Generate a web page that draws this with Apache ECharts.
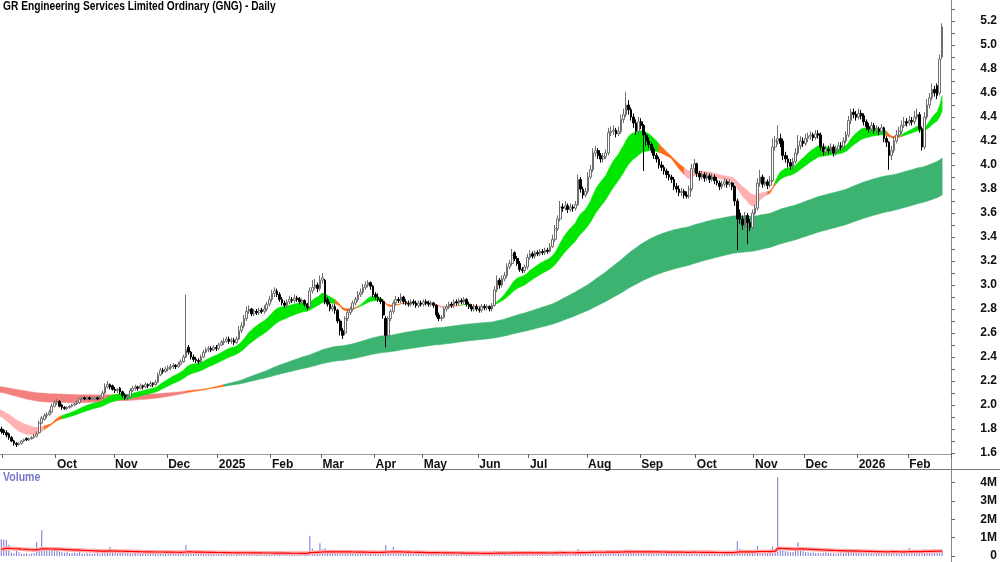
<!DOCTYPE html>
<html><head><meta charset="utf-8">
<script src="https://cdn.jsdelivr.net/npm/echarts@6/dist/echarts.min.js"></script>
<style>html,body{margin:0;padding:0;background:#fff}#c{width:1000px;height:562px}</style>
</head><body><div id="c"></div>
<script>
const chartTitle = 'GR Engineering Services Limited Ordinary (GNG) - Daily';
const volumeTitle = 'Volume';
const startDate = '2024-08-30';
const holidays = ['2024-12-25','2024-12-26','2025-01-01','2025-01-27','2025-04-18','2025-04-21','2025-04-25','2025-06-09','2025-12-25','2025-12-26','2026-01-01','2026-01-26'];
const monthNames = ['Jan','Feb','Mar','Apr','May','Jun','Jul','Aug','Sep','Oct','Nov','Dec'];

const opens = [
1.80,1.79,1.77,1.76,1.73,1.70,1.68,1.67,1.68,1.70,
1.72,1.71,1.72,1.73,1.74,1.77,1.85,1.88,1.91,1.92,
1.94,1.99,2.02,2.03,2.00,1.98,1.97,1.98,1.99,2.00,
2.01,2.02,2.05,2.06,2.05,2.06,2.05,2.05,2.06,2.05,
2.06,2.10,2.15,2.17,2.16,2.13,2.12,2.14,2.11,2.08,
2.06,2.07,2.12,2.14,2.15,2.14,2.16,2.15,2.17,2.16,
2.18,2.17,2.19,2.25,2.29,2.28,2.30,2.31,2.32,2.33,
2.32,2.34,2.36,2.40,2.48,2.44,2.40,2.38,2.37,2.36,
2.40,2.44,2.46,2.47,2.46,2.48,2.47,2.50,2.52,2.53,
2.55,2.53,2.54,2.52,2.55,2.62,2.66,2.72,2.78,2.80,
2.76,2.78,2.77,2.79,2.78,2.80,2.84,2.88,2.93,2.95,
2.92,2.88,2.85,2.83,2.86,2.88,2.87,2.89,2.88,2.86,
2.87,2.84,2.82,2.95,2.98,3.00,2.97,3.04,3.04,2.88,
2.84,2.80,2.82,2.79,2.70,2.62,2.60,2.72,2.77,2.80,
2.85,2.88,2.92,2.94,2.98,3.00,3.02,2.99,2.92,2.90,
2.88,2.86,2.72,2.58,2.72,2.78,2.85,2.88,2.87,2.90,
2.86,2.85,2.84,2.86,2.85,2.83,2.85,2.84,2.86,2.85,
2.84,2.85,2.83,2.75,2.72,2.73,2.80,2.82,2.84,2.83,
2.86,2.85,2.87,2.86,2.88,2.84,2.82,2.80,2.82,2.80,
2.79,2.82,2.81,2.82,2.80,2.83,2.96,3.04,3.00,3.05,
3.08,3.15,3.18,3.27,3.22,3.18,3.13,3.12,3.15,3.23,
3.26,3.24,3.27,3.26,3.28,3.27,3.29,3.28,3.32,3.38,
3.47,3.55,3.65,3.64,3.66,3.63,3.65,3.64,3.67,3.88,
3.80,3.75,3.78,3.90,3.96,4.10,4.12,4.08,4.05,4.07,
4.10,4.27,4.28,4.29,4.26,4.28,4.38,4.42,4.50,4.46,
4.40,4.35,4.28,4.36,4.33,4.25,4.20,4.17,4.13,4.08,
4.05,4.00,3.98,3.95,3.92,3.90,3.88,3.82,3.80,3.77,
3.78,3.75,3.74,3.80,3.97,4.01,3.93,3.90,3.92,3.89,
3.91,3.88,3.90,3.87,3.85,3.82,3.84,3.86,3.84,3.85,
3.82,3.70,3.60,3.55,3.50,3.58,3.52,3.48,3.60,3.64,
3.85,3.90,3.84,3.86,3.83,3.87,4.15,4.20,4.22,4.20,
4.08,4.05,4.02,3.99,4.03,4.10,4.16,4.20,4.18,4.22,
4.24,4.25,4.23,4.26,4.25,4.15,4.11,4.13,4.12,4.15,
4.10,4.13,4.16,4.15,4.20,4.25,4.37,4.44,4.42,4.40,
4.43,4.41,4.36,4.32,4.30,4.33,4.29,4.30,4.28,4.31,
4.22,4.19,4.08,4.12,4.20,4.25,4.28,4.33,4.36,4.35,
4.37,4.36,4.40,4.42,4.30,4.15,4.40,4.50,4.56,4.63,
4.66,4.60,4.90];

const highs = [
1.82,1.80,1.79,1.77,1.74,1.71,1.69,1.69,1.71,1.72,
1.73,1.73,1.74,1.76,1.78,1.87,1.91,1.93,1.94,1.96,
2.01,2.04,2.05,2.04,2.01,1.99,1.99,2.00,2.01,2.02,
2.04,2.06,2.07,2.07,2.07,2.07,2.07,2.07,2.07,2.08,
2.12,2.18,2.20,2.18,2.17,2.15,2.14,2.15,2.12,2.10,
2.09,2.14,2.16,2.17,2.16,2.18,2.17,2.19,2.18,2.20,
2.19,2.21,2.27,2.31,2.31,2.32,2.33,2.34,2.35,2.34,
2.36,2.38,2.42,2.92,2.50,2.45,2.42,2.40,2.39,2.42,
2.46,2.48,2.49,2.49,2.50,2.50,2.52,2.54,2.56,2.57,
2.57,2.56,2.56,2.57,2.66,2.69,2.75,2.82,2.83,2.81,
2.80,2.80,2.81,2.81,2.83,2.86,2.91,2.96,2.98,2.97,
2.94,2.90,2.87,2.88,2.91,2.90,2.92,2.91,2.90,2.89,
2.88,2.85,2.98,3.04,3.05,3.02,3.08,3.10,3.05,2.90,
2.86,2.84,2.84,2.80,2.72,2.64,2.74,2.79,2.82,2.87,
2.90,2.95,2.97,3.01,3.03,3.04,3.03,3.00,2.94,2.93,
2.90,2.88,2.74,2.74,2.80,2.87,2.91,2.90,2.93,2.91,
2.88,2.87,2.88,2.88,2.87,2.87,2.87,2.88,2.88,2.87,
2.87,2.86,2.84,2.77,2.75,2.82,2.84,2.86,2.86,2.88,
2.88,2.89,2.89,2.90,2.89,2.86,2.84,2.84,2.84,2.82,
2.84,2.84,2.84,2.83,2.85,2.99,3.08,3.06,3.08,3.11,
3.18,3.21,3.30,3.28,3.24,3.20,3.15,3.17,3.26,3.29,
3.28,3.29,3.29,3.30,3.30,3.31,3.31,3.35,3.42,3.50,
3.58,3.70,3.68,3.70,3.68,3.68,3.67,3.70,3.92,3.90,
3.82,3.81,3.94,4.00,4.14,4.16,4.14,4.10,4.10,4.13,
4.31,4.32,4.33,4.31,4.32,4.42,4.47,4.61,4.54,4.48,
4.43,4.38,4.40,4.39,4.34,4.27,4.23,4.19,4.15,4.10,
4.07,4.03,4.00,3.97,3.95,3.92,3.90,3.85,3.83,3.81,
3.80,3.78,3.83,4.01,4.05,4.02,3.95,3.95,3.94,3.94,
3.93,3.93,3.92,3.90,3.87,3.87,3.89,3.88,3.88,3.86,
3.83,3.72,3.63,3.58,3.61,3.60,3.55,3.63,3.67,3.89,
3.96,3.92,3.90,3.88,3.91,4.22,4.24,4.33,4.26,4.22,
4.11,4.08,4.05,4.06,4.14,4.25,4.24,4.23,4.26,4.27,
4.28,4.27,4.29,4.29,4.27,4.18,4.16,4.16,4.18,4.17,
4.16,4.19,4.19,4.23,4.28,4.41,4.47,4.47,4.45,4.47,
4.46,4.43,4.38,4.35,4.36,4.35,4.33,4.32,4.34,4.32,
4.24,4.20,4.16,4.24,4.29,4.32,4.37,4.40,4.39,4.41,
4.40,4.45,4.47,4.44,4.32,4.44,4.55,4.60,4.68,4.66,
4.68,4.92,5.18];

const lows = [
1.76,1.75,1.73,1.71,1.69,1.66,1.65,1.66,1.67,1.69,
1.70,1.70,1.71,1.72,1.73,1.76,1.84,1.87,1.89,1.91,
1.93,1.98,2.00,1.98,1.96,1.96,1.96,1.97,1.98,1.99,
2.00,2.01,2.04,2.04,2.04,2.04,2.04,2.04,2.04,2.04,
2.05,2.09,2.14,2.13,2.12,2.10,2.10,2.09,2.06,2.04,
2.04,2.06,2.11,2.12,2.12,2.13,2.13,2.14,2.14,2.15,
2.15,2.16,2.18,2.24,2.26,2.27,2.28,2.29,2.30,2.30,
2.31,2.33,2.35,2.39,2.42,2.38,2.36,2.35,2.34,2.35,
2.39,2.43,2.44,2.44,2.45,2.45,2.46,2.49,2.50,2.52,
2.51,2.51,2.50,2.51,2.54,2.60,2.64,2.70,2.76,2.74,
2.74,2.75,2.75,2.76,2.76,2.78,2.82,2.86,2.90,2.90,
2.86,2.83,2.81,2.81,2.84,2.85,2.85,2.86,2.84,2.84,
2.82,2.79,2.81,2.93,2.96,2.94,2.95,3.01,2.84,2.82,
2.78,2.78,2.76,2.68,2.58,2.55,2.58,2.70,2.75,2.78,
2.83,2.86,2.90,2.92,2.96,2.98,2.96,2.90,2.88,2.86,
2.84,2.72,2.48,2.56,2.70,2.76,2.83,2.85,2.85,2.84,
2.83,2.82,2.82,2.83,2.81,2.81,2.82,2.82,2.83,2.82,
2.82,2.81,2.73,2.70,2.70,2.72,2.78,2.80,2.81,2.81,
2.83,2.83,2.84,2.84,2.82,2.80,2.78,2.78,2.78,2.77,
2.77,2.79,2.79,2.78,2.78,2.82,2.94,2.97,2.98,3.03,
3.06,3.13,3.16,3.20,3.16,3.11,3.10,3.10,3.13,3.21,
3.22,3.22,3.24,3.24,3.25,3.25,3.26,3.27,3.31,3.36,
3.45,3.53,3.61,3.62,3.60,3.61,3.61,3.62,3.66,3.77,
3.72,3.73,3.76,3.88,3.94,4.07,4.05,4.02,4.02,4.05,
4.08,4.24,4.25,4.23,4.24,4.26,4.35,4.40,4.42,4.37,
4.31,4.25,4.26,4.30,3.95,4.16,4.14,4.10,4.05,4.02,
3.97,3.95,3.92,3.89,3.87,3.85,3.79,3.77,3.74,3.74,
3.72,3.72,3.72,3.78,3.94,3.90,3.87,3.88,3.86,3.87,
3.85,3.86,3.84,3.83,3.79,3.80,3.82,3.81,3.82,3.79,
3.66,3.29,3.51,3.46,3.48,3.34,3.45,3.46,3.58,3.62,
3.82,3.81,3.82,3.80,3.81,3.86,4.12,4.17,4.15,4.04,
4.02,3.98,3.96,3.96,4.01,4.08,4.13,4.15,4.16,4.19,
4.21,4.20,4.21,4.22,4.12,4.08,4.08,4.09,4.10,4.07,
4.08,4.11,4.12,4.13,4.18,4.23,4.34,4.39,4.37,4.38,
4.38,4.33,4.29,4.27,4.28,4.26,4.26,4.25,4.26,4.19,
4.15,3.96,4.04,4.10,4.18,4.23,4.26,4.31,4.32,4.33,
4.33,4.34,4.38,4.27,4.12,4.13,4.38,4.47,4.54,4.57,
4.55,4.58,4.88];

const closes = [
1.78,1.77,1.75,1.73,1.70,1.68,1.67,1.68,1.70,1.71,
1.71,1.72,1.73,1.74,1.76,1.85,1.89,1.91,1.92,1.94,
1.99,2.02,2.03,1.99,1.98,1.97,1.98,1.99,2.00,2.01,
2.02,2.05,2.06,2.05,2.06,2.05,2.06,2.06,2.05,2.06,
2.10,2.15,2.17,2.15,2.13,2.12,2.13,2.11,2.08,2.06,
2.07,2.12,2.14,2.15,2.14,2.16,2.15,2.17,2.16,2.18,
2.17,2.19,2.25,2.29,2.28,2.30,2.31,2.32,2.33,2.32,
2.34,2.36,2.40,2.46,2.44,2.40,2.38,2.37,2.36,2.40,
2.44,2.46,2.47,2.46,2.48,2.47,2.50,2.52,2.53,2.55,
2.53,2.54,2.52,2.55,2.62,2.66,2.72,2.78,2.80,2.76,
2.78,2.77,2.79,2.78,2.80,2.84,2.88,2.93,2.95,2.92,
2.88,2.85,2.83,2.86,2.88,2.87,2.89,2.88,2.86,2.87,
2.84,2.81,2.95,2.98,3.00,2.97,3.04,3.06,2.86,2.84,
2.80,2.82,2.79,2.70,2.62,2.58,2.72,2.77,2.80,2.85,
2.88,2.92,2.94,2.98,3.00,3.02,2.99,2.92,2.90,2.88,
2.86,2.75,2.58,2.72,2.78,2.85,2.88,2.87,2.90,2.86,
2.85,2.84,2.86,2.85,2.83,2.85,2.84,2.86,2.85,2.84,
2.85,2.83,2.75,2.72,2.73,2.80,2.82,2.84,2.83,2.86,
2.85,2.87,2.86,2.88,2.84,2.82,2.80,2.82,2.80,2.79,
2.82,2.81,2.82,2.80,2.83,2.96,3.04,3.00,3.05,3.08,
3.15,3.18,3.25,3.22,3.18,3.13,3.12,3.15,3.23,3.26,
3.24,3.27,3.26,3.28,3.27,3.29,3.28,3.32,3.38,3.47,
3.55,3.65,3.64,3.66,3.63,3.65,3.64,3.67,3.88,3.80,
3.75,3.78,3.90,3.96,4.10,4.12,4.08,4.05,4.07,4.10,
4.27,4.28,4.29,4.26,4.28,4.38,4.42,4.50,4.46,4.40,
4.35,4.28,4.36,4.33,4.25,4.20,4.17,4.13,4.08,4.05,
4.00,3.98,3.95,3.92,3.90,3.88,3.82,3.80,3.77,3.78,
3.75,3.74,3.80,3.97,4.01,3.93,3.90,3.92,3.89,3.91,
3.88,3.90,3.87,3.85,3.82,3.84,3.86,3.84,3.85,3.82,
3.70,3.55,3.55,3.50,3.58,3.52,3.48,3.60,3.64,3.85,
3.90,3.84,3.86,3.83,3.87,4.15,4.20,4.22,4.18,4.08,
4.05,4.02,3.99,4.03,4.10,4.16,4.20,4.18,4.22,4.24,
4.25,4.23,4.26,4.25,4.15,4.11,4.13,4.12,4.15,4.10,
4.13,4.16,4.15,4.20,4.25,4.37,4.44,4.42,4.40,4.43,
4.41,4.36,4.32,4.30,4.33,4.29,4.30,4.28,4.31,4.22,
4.19,4.08,4.12,4.20,4.25,4.28,4.33,4.36,4.35,4.37,
4.36,4.40,4.42,4.30,4.15,4.40,4.50,4.56,4.63,4.60,
4.58,4.88,5.15];

// volume in thousands of shares
const volumes = [
920,900,880,620,180,150,300,200,110,130,
150,90,140,160,750,420,1400,380,300,260,
350,280,310,240,200,180,220,150,170,190,
160,230,140,120,150,130,110,140,160,120,
280,260,210,500,180,190,150,230,170,160,
200,180,140,170,150,130,160,120,140,180,
150,170,260,220,180,150,170,140,160,130,
150,180,240,600,280,200,170,150,140,130,
160,140,150,120,130,110,140,150,120,130,
110,100,120,140,180,200,170,190,160,130,
120,110,130,100,120,150,170,160,140,130,
120,110,100,130,120,110,140,120,100,110,
130,150,1100,400,260,200,700,350,420,300,
240,200,180,220,260,230,200,180,160,150,
170,160,180,150,140,130,120,150,140,160,
180,300,600,300,240,500,160,150,170,140,
130,120,110,140,120,130,110,120,100,110,
130,120,160,150,130,120,110,100,130,120,
110,120,100,110,130,120,110,140,120,100,
110,130,120,110,140,300,260,200,180,220,
240,200,260,220,180,160,150,170,200,180,
150,140,160,130,140,150,130,180,220,260,
240,300,200,180,160,170,150,140,380,260,
220,200,280,260,330,300,240,220,200,260,
320,280,240,220,200,300,280,350,260,240,
220,200,230,210,300,240,200,180,170,200,
180,160,190,170,150,160,180,170,200,160,
150,170,180,280,240,200,170,160,150,180,
160,150,170,140,160,150,170,180,160,200,
300,800,400,300,260,280,240,200,260,550,
300,260,220,240,200,520,400,4300,350,300,
260,240,200,220,280,750,300,260,220,200,
180,200,170,160,150,180,200,170,160,150,
140,160,180,150,200,260,240,200,180,170,
160,150,170,180,160,150,140,160,170,150,
200,300,260,220,240,200,180,220,260,450,
300,250,240,220,300,350,280,260,300,380,
320,360,300];

const priceLabelValues = [1.6,1.8,2.0,2.2,2.4,2.6,2.8,3.0,3.2,3.4,3.6,3.8,4.0,4.2,4.4,4.6,4.8,5.0,5.2];
const priceTickValues = [1.6,1.7,1.8,1.9,2.0,2.1,2.2,2.3,2.4,2.5,2.6,2.7,2.8,2.9,3.0,3.1,3.2,3.3,3.4,3.5,3.6,3.7,3.8,3.9,4.0,4.1,4.2,4.3,4.4,4.5,4.6,4.7,4.8,4.9,5.0,5.1,5.2,5.3];
const volumeTickValues = [0,1000000,2000000,3000000,4000000];

const shortPeriods = [15,18,21,24,27,30];
const longPeriods = [135,155,175,195,215,235];
const shortSeeds = [1.92,1.93,1.94,1.95,1.96,1.97];
const longSeeds = [2.11,2.12,2.13,2.14,2.15,2.155];
const volumeAvgPeriod = 50;
const volumeAvgSeed = 350;

// ---- build categories (trading days) ----
const hol = new Set(holidays);
const dates = [];
{
  const p = startDate.split('-').map(Number);
  const d = new Date(Date.UTC(p[0], p[1]-1, p[2]));
  while (dates.length < closes.length) {
    const wd = d.getUTCDay();
    const s = d.toISOString().slice(0,10);
    if (wd !== 0 && wd !== 6 && !hol.has(s)) dates.push(s);
    d.setUTCDate(d.getUTCDate()+1);
  }
}
const categories = dates.concat(['+1','+2','+3']);
const monthStart = new Set();
for (let i = 1; i < dates.length; i++) if (dates[i].slice(5,7) !== dates[i-1].slice(5,7)) monthStart.add(i);
const isTick = (idx) => monthStart.has(idx);
const isLabel = (idx) => monthStart.has(idx) && idx > 5;
const monthLabel = (v) => { if (v.length < 10) return ''; const m = +v.slice(5,7); return m === 1 ? v.slice(0,4) : monthNames[m-1]; };

// ---- moving average groups ----
function emaGroup(periods, seeds) {
  return periods.map((p,k) => { const a = 2/(p+1); let e = seeds[k]; return closes.map(c => (e = e + a*(c-e))); });
}
function bandSeries(group, colors) {
  const n = closes.length, lo = [], hi = [], st = [];
  for (let i = 0; i < n; i++) {
    const v = group.map(g => g[i]);
    lo.push(Math.min(...v)); hi.push(Math.max(...v));
    let up = true, dn = true;
    for (let k = 0; k < v.length-1; k++) { if (!(v[k] > v[k+1])) up = false; if (!(v[k] < v[k+1])) dn = false; }
    st.push(up ? 0 : (dn ? 1 : 2));
  }
  const runs = [];
  let s = 0;
  for (let i = 1; i <= n; i++) if (i === n || st[i] !== st[s]) { runs.push([s, i-1, st[s]]); s = i; }
  return {
    type: 'custom', xAxisIndex: 0, yAxisIndex: 0, silent: true, z: 1, data: runs,
    encode: { x: 0 },
    renderItem(params, api) {
      const r = runs[params.dataIndex];
      const w = api.size([1,0])[0];
      const a = Math.max(r[0]-1, 0), b = r[1];
      const top = [], bot = [];
      for (let k = a; k <= b; k++) {
        top.push(api.coord([k, hi[k]]));
        bot.push(api.coord([k, lo[k]]));
      }
      if (r[0] === 0) { top.unshift([top[0][0]-w/2, top[0][1]]); bot.unshift([bot[0][0]-w/2, bot[0][1]]); }
      const pts = top.concat(bot.reverse());
      const c = colors[r[2]];
      return { type: 'polygon', shape: { points: pts }, style: { fill: c, stroke: c, lineWidth: 0.5 } };
    }
  };
}
const shortGroup = emaGroup(shortPeriods, shortSeeds);
const longGroup = emaGroup(longPeriods, longSeeds);

const volAvg = [];
{ let e = volumeAvgSeed; const a = 2/(volumeAvgPeriod+1); volumes.forEach(v => { e += a*(v-e); volAvg.push(e*1000); }); }

const font = '"Liberation Sans", Arial, sans-serif';

const chart = echarts.init(document.getElementById('c'), null, { renderer: 'canvas' });
chart.setOption({
  animation: false,
  backgroundColor: '#ffffff',
  grid: [
    { left: 0, right: 49, top: 0, height: 454 },
    { left: 0, right: 49, top: 469, height: 89 }
  ],
  xAxis: [
    { type: 'category', gridIndex: 0, data: categories, boundaryGap: true,
      axisLine: { show: true, lineStyle: { color: '#999', width: 1 } },
      axisTick: { show: true, interval: (i) => isTick(i), length: 4, lineStyle: { color: '#666' } },
      axisLabel: { show: true, interval: (i) => isLabel(i), formatter: (v) => monthLabel(v), align: 'left', margin: 5,
                   fontFamily: font, fontWeight: 'bold', fontSize: 12, color: '#111' },
      splitLine: { show: false } },
    { type: 'category', gridIndex: 1, data: categories, boundaryGap: true,
      axisLine: { show: false }, axisTick: { show: false }, axisLabel: { show: false }, splitLine: { show: false } }
  ],
  yAxis: [
    { type: 'value', gridIndex: 0, position: 'right', min: 1.5917, max: 5.375, scale: true,
      axisLine: { show: true, lineStyle: { color: '#888' } },
      axisTick: { show: true, customValues: priceTickValues, length: 4, lineStyle: { color: '#666' } },
      axisLabel: { show: true, customValues: priceLabelValues, formatter: (v) => v.toFixed(1), align: 'right', margin: 46,
                   fontFamily: font, fontWeight: 'bold', fontSize: 12, color: '#111' },
      splitLine: { show: false } },
    { type: 'value', gridIndex: 1, position: 'right', min: 0, max: 4750000,
      axisLine: { show: true, lineStyle: { color: '#888' } },
      axisTick: { show: true, customValues: volumeTickValues, length: 4, lineStyle: { color: '#666' } },
      axisLabel: { show: true, customValues: volumeTickValues, formatter: (v) => v === 0 ? '0' : (v/1e6) + 'M', align: 'right', margin: 46,
                   fontFamily: font, fontWeight: 'bold', fontSize: 12, color: '#111' },
      splitLine: { show: false } }
  ],
  graphic: [
    { type: 'text', x: 3, y: 1, scaleX: 0.85, style: { text: chartTitle, font: 'bold 12px ' + font, fill: '#000' } },
    { type: 'text', x: 3, y: 472, scaleX: 0.88, style: { text: volumeTitle, font: 'bold 12px ' + font, fill: '#7878c8' } },
    { type: 'line', shape: { x1: 0, y1: 469.5, x2: 1000, y2: 469.5 }, style: { stroke: '#777', lineWidth: 1 } },
    { type: 'line', shape: { x1: 951.5, y1: 0, x2: 951.5, y2: 562 }, style: { stroke: '#888', lineWidth: 1 } }
  ],
  series: [
    bandSeries(longGroup, ['#3cb371', '#f47f7f', '#ff6a1a']),
    bandSeries(shortGroup, ['#00e600', '#ffb0b0', '#ff6a1a']),
    { type: 'candlestick', xAxisIndex: 0, yAxisIndex: 0, z: 3, barWidth: 2.2,
      data: closes.map((c,i) => [opens[i], c, lows[i], highs[i]]),
      itemStyle: { color: '#ffffff', color0: '#000000', borderColor: '#6e6e6e', borderColor0: '#000000', borderWidth: 1 } },
    { type: 'bar', xAxisIndex: 1, yAxisIndex: 1, barWidth: 1, z: 2,
      data: volumes.map(v => v*1000), itemStyle: { color: '#7676d6' } },
    { type: 'line', xAxisIndex: 1, yAxisIndex: 1, data: volAvg, symbol: 'none', z: 3, silent: true,
      lineStyle: { color: '#ffaaaa', width: 4 } },
    { type: 'line', xAxisIndex: 1, yAxisIndex: 1, data: volAvg, symbol: 'none', z: 4, silent: true,
      lineStyle: { color: '#ff0000', width: 1.2 } }
  ]
});
</script></body></html>
